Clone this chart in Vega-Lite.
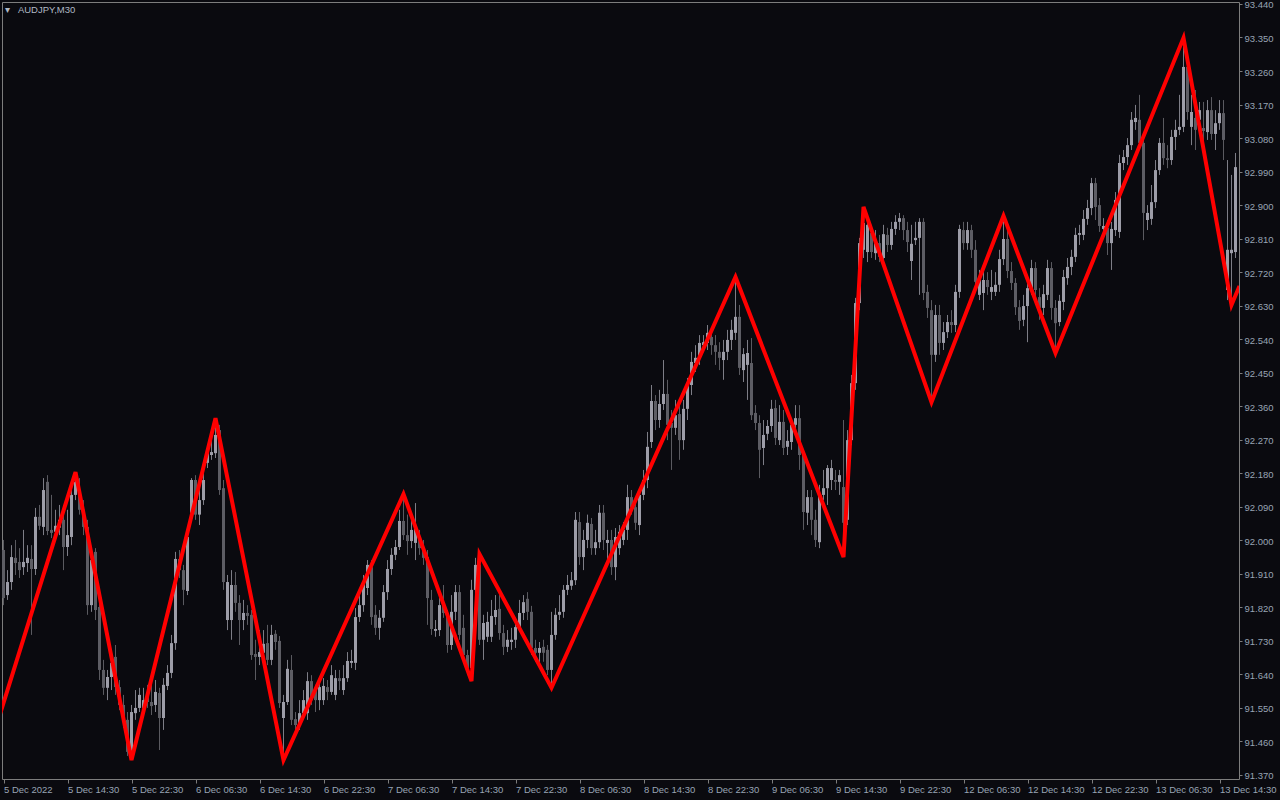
{
"$schema": "https://vega.github.io/schema/vega-lite/v6.json",
"width": 1237, "height": 777,
"autosize": "none",
"padding": {"left": 2, "top": 2, "right": 41, "bottom": 21},
"background": "#0a0a0f",
"config": {
 "view": {"stroke": "#7d7d7d", "strokeWidth": 1},
 "axis": {"labelFont": "Liberation Sans", "labelFontSize": 9.5, "labelColor": "#98a4b4", "tickColor": "#7d7d7d", "domain": false, "grid": false, "title": null, "labelOverlap": false, "labelFlush": false}
},
"title": {"text": "▾\u00a0\u00a0\u00a0AUDJPY,M30", "anchor": "start", "frame": "group", "offset": -15, "dx": 3, "font": "Liberation Sans", "fontSize": 9.5, "fontWeight": "normal", "color": "#b0b8c4"},
"datasets": {
"candles": [
{"i":0,"o":91.974,"h":92.001,"l":91.826,"c":91.845},
{"i":1,"o":91.853,"h":91.920,"l":91.840,"c":91.888},
{"i":2,"o":91.888,"h":91.987,"l":91.867,"c":91.955},
{"i":3,"o":91.953,"h":92.001,"l":91.907,"c":91.939},
{"i":4,"o":91.942,"h":91.979,"l":91.899,"c":91.920},
{"i":5,"o":91.928,"h":92.028,"l":91.907,"c":91.942},
{"i":6,"o":91.939,"h":91.987,"l":91.915,"c":91.953},
{"i":7,"o":91.950,"h":91.987,"l":91.746,"c":91.923},
{"i":8,"o":91.923,"h":92.087,"l":91.907,"c":92.063},
{"i":9,"o":92.063,"h":92.095,"l":92.028,"c":92.039},
{"i":10,"o":92.036,"h":92.167,"l":92.014,"c":92.135},
{"i":11,"o":92.157,"h":92.175,"l":92.014,"c":92.025},
{"i":12,"o":92.028,"h":92.122,"l":92.006,"c":92.020},
{"i":13,"o":92.023,"h":92.082,"l":92.001,"c":92.039},
{"i":14,"o":92.034,"h":92.095,"l":92.014,"c":92.055},
{"i":15,"o":92.055,"h":92.095,"l":91.920,"c":91.982},
{"i":16,"o":91.982,"h":92.082,"l":91.958,"c":92.014},
{"i":17,"o":92.009,"h":92.149,"l":91.987,"c":92.122},
{"i":18,"o":92.122,"h":92.183,"l":92.108,"c":92.157},
{"i":19,"o":92.127,"h":92.167,"l":92.069,"c":92.082},
{"i":20,"o":92.082,"h":92.108,"l":92.014,"c":92.036},
{"i":21,"o":92.036,"h":92.055,"l":91.800,"c":91.826},
{"i":22,"o":91.826,"h":91.979,"l":91.808,"c":91.947},
{"i":23,"o":91.969,"h":91.979,"l":91.786,"c":91.813},
{"i":24,"o":91.821,"h":91.840,"l":91.625,"c":91.652},
{"i":25,"o":91.652,"h":91.679,"l":91.585,"c":91.604},
{"i":26,"o":91.604,"h":91.652,"l":91.571,"c":91.633},
{"i":27,"o":91.633,"h":91.706,"l":91.598,"c":91.671},
{"i":28,"o":91.687,"h":91.719,"l":91.585,"c":91.606},
{"i":29,"o":91.606,"h":91.625,"l":91.544,"c":91.558},
{"i":30,"o":91.558,"h":91.585,"l":91.496,"c":91.518},
{"i":31,"o":91.518,"h":91.539,"l":91.421,"c":91.432},
{"i":32,"o":91.432,"h":91.558,"l":91.410,"c":91.539},
{"i":33,"o":91.536,"h":91.598,"l":91.518,"c":91.550},
{"i":34,"o":91.550,"h":91.604,"l":91.539,"c":91.585},
{"i":35,"o":91.550,"h":91.604,"l":91.531,"c":91.571},
{"i":36,"o":91.585,"h":91.612,"l":91.550,"c":91.566},
{"i":37,"o":91.566,"h":91.620,"l":91.531,"c":91.555},
{"i":38,"o":91.558,"h":91.625,"l":91.539,"c":91.593},
{"i":39,"o":91.590,"h":91.604,"l":91.437,"c":91.523},
{"i":40,"o":91.523,"h":91.630,"l":91.491,"c":91.612},
{"i":41,"o":91.609,"h":91.665,"l":91.598,"c":91.644},
{"i":42,"o":91.644,"h":91.746,"l":91.630,"c":91.724},
{"i":43,"o":91.724,"h":91.969,"l":91.706,"c":91.950},
{"i":44,"o":91.950,"h":91.974,"l":91.899,"c":91.920},
{"i":45,"o":91.920,"h":91.934,"l":91.826,"c":91.867},
{"i":46,"o":91.864,"h":92.028,"l":91.853,"c":92.009},
{"i":47,"o":92.074,"h":92.167,"l":92.055,"c":92.162},
{"i":48,"o":92.162,"h":92.175,"l":92.055,"c":92.069},
{"i":49,"o":92.069,"h":92.135,"l":92.041,"c":92.108},
{"i":50,"o":92.108,"h":92.183,"l":92.095,"c":92.162},
{"i":51,"o":92.208,"h":92.256,"l":92.194,"c":92.234},
{"i":52,"o":92.229,"h":92.269,"l":92.216,"c":92.237},
{"i":53,"o":92.234,"h":92.328,"l":92.221,"c":92.283},
{"i":54,"o":92.296,"h":92.310,"l":92.122,"c":92.135},
{"i":55,"o":92.140,"h":92.162,"l":91.867,"c":91.888},
{"i":56,"o":91.786,"h":91.907,"l":91.759,"c":91.888},
{"i":57,"o":91.786,"h":91.920,"l":91.733,"c":91.880},
{"i":58,"o":91.880,"h":91.915,"l":91.808,"c":91.832},
{"i":59,"o":91.832,"h":91.853,"l":91.719,"c":91.786},
{"i":60,"o":91.786,"h":91.840,"l":91.759,"c":91.805},
{"i":61,"o":91.805,"h":91.826,"l":91.773,"c":91.797},
{"i":62,"o":91.800,"h":91.813,"l":91.679,"c":91.692},
{"i":63,"o":91.695,"h":91.733,"l":91.625,"c":91.687},
{"i":64,"o":91.687,"h":91.759,"l":91.665,"c":91.700},
{"i":65,"o":91.698,"h":91.759,"l":91.679,"c":91.722},
{"i":66,"o":91.724,"h":91.773,"l":91.665,"c":91.679},
{"i":67,"o":91.679,"h":91.773,"l":91.665,"c":91.746},
{"i":68,"o":91.749,"h":91.759,"l":91.706,"c":91.727},
{"i":69,"o":91.730,"h":91.743,"l":91.550,"c":91.563},
{"i":70,"o":91.523,"h":91.585,"l":91.410,"c":91.566},
{"i":71,"o":91.566,"h":91.679,"l":91.558,"c":91.655},
{"i":72,"o":91.652,"h":91.692,"l":91.504,"c":91.518},
{"i":73,"o":91.520,"h":91.539,"l":91.478,"c":91.504},
{"i":74,"o":91.504,"h":91.571,"l":91.491,"c":91.536},
{"i":75,"o":91.536,"h":91.598,"l":91.523,"c":91.571},
{"i":76,"o":91.536,"h":91.646,"l":91.518,"c":91.622},
{"i":77,"o":91.622,"h":91.638,"l":91.558,"c":91.571},
{"i":78,"o":91.598,"h":91.612,"l":91.539,"c":91.571},
{"i":79,"o":91.571,"h":91.625,"l":91.544,"c":91.606},
{"i":80,"o":91.571,"h":91.630,"l":91.558,"c":91.609},
{"i":81,"o":91.606,"h":91.625,"l":91.571,"c":91.593},
{"i":82,"o":91.593,"h":91.665,"l":91.585,"c":91.638},
{"i":83,"o":91.585,"h":91.652,"l":91.571,"c":91.630},
{"i":84,"o":91.630,"h":91.652,"l":91.598,"c":91.622},
{"i":85,"o":91.598,"h":91.665,"l":91.585,"c":91.630},
{"i":86,"o":91.630,"h":91.700,"l":91.620,"c":91.676},
{"i":87,"o":91.671,"h":91.706,"l":91.657,"c":91.676},
{"i":88,"o":91.671,"h":91.818,"l":91.652,"c":91.794},
{"i":89,"o":91.794,"h":91.853,"l":91.781,"c":91.826},
{"i":90,"o":91.826,"h":91.907,"l":91.808,"c":91.888},
{"i":91,"o":91.872,"h":91.947,"l":91.853,"c":91.934},
{"i":92,"o":91.928,"h":91.947,"l":91.773,"c":91.794},
{"i":93,"o":91.800,"h":91.826,"l":91.746,"c":91.765},
{"i":94,"o":91.765,"h":91.813,"l":91.733,"c":91.792},
{"i":95,"o":91.792,"h":91.880,"l":91.781,"c":91.861},
{"i":96,"o":91.861,"h":91.947,"l":91.840,"c":91.923},
{"i":97,"o":91.923,"h":91.979,"l":91.907,"c":91.961},
{"i":98,"o":91.961,"h":92.001,"l":91.947,"c":91.982},
{"i":99,"o":91.982,"h":92.082,"l":91.974,"c":92.052},
{"i":100,"o":92.052,"h":92.124,"l":92.001,"c":92.014},
{"i":101,"o":92.014,"h":92.069,"l":91.961,"c":91.998},
{"i":102,"o":91.998,"h":92.055,"l":91.979,"c":92.028},
{"i":103,"o":91.993,"h":92.100,"l":91.947,"c":92.031},
{"i":104,"o":92.001,"h":92.028,"l":91.961,"c":91.979},
{"i":105,"o":91.979,"h":92.001,"l":91.934,"c":91.953},
{"i":106,"o":91.955,"h":91.974,"l":91.773,"c":91.845},
{"i":107,"o":91.840,"h":91.867,"l":91.746,"c":91.762},
{"i":108,"o":91.757,"h":91.786,"l":91.741,"c":91.762},
{"i":109,"o":91.759,"h":91.845,"l":91.743,"c":91.826},
{"i":110,"o":91.826,"h":91.880,"l":91.792,"c":91.805},
{"i":111,"o":91.805,"h":91.813,"l":91.698,"c":91.719},
{"i":112,"o":91.719,"h":91.853,"l":91.706,"c":91.808},
{"i":113,"o":91.808,"h":91.880,"l":91.786,"c":91.861},
{"i":114,"o":91.861,"h":91.880,"l":91.733,"c":91.746},
{"i":115,"o":91.765,"h":91.800,"l":91.674,"c":91.692},
{"i":116,"o":91.692,"h":91.706,"l":91.638,"c":91.657},
{"i":117,"o":91.657,"h":91.894,"l":91.622,"c":91.867},
{"i":118,"o":91.867,"h":91.953,"l":91.853,"c":91.934},
{"i":119,"o":91.934,"h":91.963,"l":91.719,"c":91.733},
{"i":120,"o":91.733,"h":91.800,"l":91.679,"c":91.778},
{"i":121,"o":91.741,"h":91.808,"l":91.727,"c":91.781},
{"i":122,"o":91.741,"h":91.840,"l":91.727,"c":91.797},
{"i":123,"o":91.794,"h":91.853,"l":91.773,"c":91.813},
{"i":124,"o":91.816,"h":91.853,"l":91.733,"c":91.751},
{"i":125,"o":91.751,"h":91.773,"l":91.692,"c":91.714},
{"i":126,"o":91.714,"h":91.759,"l":91.700,"c":91.733},
{"i":127,"o":91.727,"h":91.765,"l":91.706,"c":91.733},
{"i":128,"o":91.733,"h":91.792,"l":91.711,"c":91.767},
{"i":129,"o":91.767,"h":91.840,"l":91.754,"c":91.805},
{"i":130,"o":91.805,"h":91.853,"l":91.786,"c":91.834},
{"i":131,"o":91.843,"h":91.861,"l":91.786,"c":91.808},
{"i":132,"o":91.808,"h":91.824,"l":91.692,"c":91.711},
{"i":133,"o":91.711,"h":91.733,"l":91.674,"c":91.698},
{"i":134,"o":91.698,"h":91.727,"l":91.665,"c":91.711},
{"i":135,"o":91.714,"h":91.733,"l":91.674,"c":91.698},
{"i":136,"o":91.706,"h":91.719,"l":91.638,"c":91.652},
{"i":137,"o":91.652,"h":91.808,"l":91.604,"c":91.746},
{"i":138,"o":91.746,"h":91.818,"l":91.733,"c":91.800},
{"i":139,"o":91.800,"h":91.853,"l":91.786,"c":91.808},
{"i":140,"o":91.808,"h":91.880,"l":91.792,"c":91.867},
{"i":141,"o":91.867,"h":91.907,"l":91.853,"c":91.880},
{"i":142,"o":91.878,"h":91.915,"l":91.867,"c":91.893},
{"i":143,"o":91.893,"h":92.076,"l":91.880,"c":92.055},
{"i":144,"o":92.049,"h":92.076,"l":91.934,"c":91.955},
{"i":145,"o":91.955,"h":92.028,"l":91.920,"c":92.001},
{"i":146,"o":92.001,"h":92.069,"l":91.979,"c":92.047},
{"i":147,"o":92.044,"h":92.060,"l":91.961,"c":91.979},
{"i":148,"o":91.979,"h":92.028,"l":91.961,"c":91.995},
{"i":149,"o":91.995,"h":92.095,"l":91.979,"c":92.074},
{"i":150,"o":92.074,"h":92.095,"l":91.974,"c":92.001},
{"i":151,"o":91.993,"h":92.028,"l":91.947,"c":92.001},
{"i":152,"o":92.001,"h":92.028,"l":91.907,"c":91.928},
{"i":153,"o":91.928,"h":92.033,"l":91.893,"c":92.009},
{"i":154,"o":91.979,"h":92.041,"l":91.961,"c":92.023},
{"i":155,"o":92.001,"h":92.049,"l":91.987,"c":92.028},
{"i":156,"o":92.028,"h":92.149,"l":92.001,"c":92.116},
{"i":157,"o":92.116,"h":92.135,"l":92.069,"c":92.089},
{"i":158,"o":92.089,"h":92.108,"l":92.028,"c":92.047},
{"i":159,"o":92.041,"h":92.135,"l":92.014,"c":92.122},
{"i":160,"o":92.122,"h":92.189,"l":92.108,"c":92.162},
{"i":161,"o":92.162,"h":92.291,"l":92.140,"c":92.251},
{"i":162,"o":92.264,"h":92.417,"l":92.248,"c":92.374},
{"i":163,"o":92.374,"h":92.390,"l":92.296,"c":92.323},
{"i":164,"o":92.323,"h":92.404,"l":92.302,"c":92.366},
{"i":165,"o":92.366,"h":92.484,"l":92.350,"c":92.393},
{"i":166,"o":92.393,"h":92.431,"l":92.269,"c":92.310},
{"i":167,"o":92.315,"h":92.350,"l":92.189,"c":92.302},
{"i":168,"o":92.302,"h":92.377,"l":92.283,"c":92.336},
{"i":169,"o":92.339,"h":92.363,"l":92.216,"c":92.269},
{"i":170,"o":92.269,"h":92.377,"l":92.243,"c":92.353},
{"i":171,"o":92.353,"h":92.436,"l":92.323,"c":92.417},
{"i":172,"o":92.417,"h":92.506,"l":92.390,"c":92.479},
{"i":173,"o":92.476,"h":92.524,"l":92.452,"c":92.490},
{"i":174,"o":92.490,"h":92.551,"l":92.471,"c":92.530},
{"i":175,"o":92.524,"h":92.551,"l":92.506,"c":92.532},
{"i":176,"o":92.530,"h":92.578,"l":92.511,"c":92.557},
{"i":177,"o":92.546,"h":92.565,"l":92.498,"c":92.524},
{"i":178,"o":92.524,"h":92.551,"l":92.471,"c":92.506},
{"i":179,"o":92.506,"h":92.532,"l":92.457,"c":92.490},
{"i":180,"o":92.484,"h":92.538,"l":92.431,"c":92.506},
{"i":181,"o":92.506,"h":92.565,"l":92.484,"c":92.538},
{"i":182,"o":92.538,"h":92.592,"l":92.511,"c":92.565},
{"i":183,"o":92.557,"h":92.707,"l":92.538,"c":92.600},
{"i":184,"o":92.600,"h":92.632,"l":92.444,"c":92.463},
{"i":185,"o":92.457,"h":92.516,"l":92.425,"c":92.500},
{"i":186,"o":92.471,"h":92.538,"l":92.377,"c":92.503},
{"i":187,"o":92.476,"h":92.543,"l":92.323,"c":92.336},
{"i":188,"o":92.342,"h":92.363,"l":92.296,"c":92.315},
{"i":189,"o":92.315,"h":92.336,"l":92.167,"c":92.243},
{"i":190,"o":92.248,"h":92.323,"l":92.202,"c":92.283},
{"i":191,"o":92.286,"h":92.323,"l":92.269,"c":92.307},
{"i":192,"o":92.307,"h":92.377,"l":92.291,"c":92.353},
{"i":193,"o":92.355,"h":92.377,"l":92.256,"c":92.275},
{"i":194,"o":92.269,"h":92.363,"l":92.256,"c":92.318},
{"i":195,"o":92.318,"h":92.350,"l":92.229,"c":92.248},
{"i":196,"o":92.251,"h":92.296,"l":92.229,"c":92.267},
{"i":197,"o":92.264,"h":92.328,"l":92.243,"c":92.310},
{"i":198,"o":92.310,"h":92.363,"l":92.291,"c":92.328},
{"i":199,"o":92.328,"h":92.363,"l":92.189,"c":92.229},
{"i":200,"o":92.229,"h":92.243,"l":92.028,"c":92.076},
{"i":201,"o":92.074,"h":92.135,"l":92.041,"c":92.116},
{"i":202,"o":92.116,"h":92.135,"l":92.014,"c":92.055},
{"i":203,"o":92.055,"h":92.082,"l":91.982,"c":92.001},
{"i":204,"o":91.995,"h":92.149,"l":91.979,"c":92.122},
{"i":205,"o":92.122,"h":92.189,"l":92.108,"c":92.140},
{"i":206,"o":92.140,"h":92.202,"l":92.095,"c":92.194},
{"i":207,"o":92.162,"h":92.216,"l":92.135,"c":92.194},
{"i":208,"o":92.162,"h":92.189,"l":92.135,"c":92.157},
{"i":209,"o":92.157,"h":92.189,"l":92.122,"c":92.175},
{"i":210,"o":92.143,"h":92.323,"l":91.955,"c":92.047},
{"i":211,"o":92.055,"h":92.296,"l":92.041,"c":92.269},
{"i":212,"o":92.269,"h":92.444,"l":92.256,"c":92.422},
{"i":213,"o":92.422,"h":92.651,"l":92.404,"c":92.637},
{"i":214,"o":92.637,"h":92.812,"l":92.618,"c":92.798},
{"i":215,"o":92.780,"h":92.895,"l":92.758,"c":92.852},
{"i":216,"o":92.774,"h":92.873,"l":92.747,"c":92.847},
{"i":217,"o":92.825,"h":92.847,"l":92.758,"c":92.774},
{"i":218,"o":92.771,"h":92.833,"l":92.753,"c":92.798},
{"i":219,"o":92.798,"h":92.820,"l":92.747,"c":92.761},
{"i":220,"o":92.758,"h":92.847,"l":92.747,"c":92.822},
{"i":221,"o":92.820,"h":92.839,"l":92.774,"c":92.793},
{"i":222,"o":92.793,"h":92.855,"l":92.780,"c":92.836},
{"i":223,"o":92.836,"h":92.873,"l":92.820,"c":92.855},
{"i":224,"o":92.855,"h":92.879,"l":92.833,"c":92.865},
{"i":225,"o":92.865,"h":92.873,"l":92.806,"c":92.833},
{"i":226,"o":92.833,"h":92.855,"l":92.774,"c":92.801},
{"i":227,"o":92.750,"h":92.847,"l":92.699,"c":92.796},
{"i":228,"o":92.806,"h":92.855,"l":92.793,"c":92.812},
{"i":229,"o":92.812,"h":92.865,"l":92.659,"c":92.855},
{"i":230,"o":92.855,"h":92.865,"l":92.645,"c":92.664},
{"i":231,"o":92.667,"h":92.686,"l":92.597,"c":92.624},
{"i":232,"o":92.618,"h":92.645,"l":92.371,"c":92.498},
{"i":233,"o":92.498,"h":92.632,"l":92.479,"c":92.605},
{"i":234,"o":92.605,"h":92.632,"l":92.498,"c":92.530},
{"i":235,"o":92.530,"h":92.586,"l":92.511,"c":92.559},
{"i":236,"o":92.559,"h":92.605,"l":92.543,"c":92.586},
{"i":237,"o":92.586,"h":92.618,"l":92.557,"c":92.578},
{"i":238,"o":92.578,"h":92.686,"l":92.559,"c":92.667},
{"i":239,"o":92.667,"h":92.847,"l":92.651,"c":92.836},
{"i":240,"o":92.833,"h":92.855,"l":92.780,"c":92.798},
{"i":241,"o":92.798,"h":92.855,"l":92.780,"c":92.833},
{"i":242,"o":92.833,"h":92.847,"l":92.758,"c":92.780},
{"i":243,"o":92.780,"h":92.806,"l":92.672,"c":92.694},
{"i":244,"o":92.659,"h":92.726,"l":92.645,"c":92.699},
{"i":245,"o":92.664,"h":92.739,"l":92.618,"c":92.699},
{"i":246,"o":92.699,"h":92.720,"l":92.659,"c":92.680},
{"i":247,"o":92.667,"h":92.726,"l":92.645,"c":92.680},
{"i":248,"o":92.667,"h":92.720,"l":92.656,"c":92.686},
{"i":249,"o":92.686,"h":92.780,"l":92.667,"c":92.755},
{"i":250,"o":92.755,"h":92.871,"l":92.739,"c":92.809},
{"i":251,"o":92.809,"h":92.833,"l":92.704,"c":92.723},
{"i":252,"o":92.723,"h":92.747,"l":92.672,"c":92.691},
{"i":253,"o":92.691,"h":92.704,"l":92.605,"c":92.626},
{"i":254,"o":92.626,"h":92.645,"l":92.565,"c":92.589},
{"i":255,"o":92.592,"h":92.659,"l":92.575,"c":92.629},
{"i":256,"o":92.629,"h":92.699,"l":92.532,"c":92.677},
{"i":257,"o":92.677,"h":92.753,"l":92.659,"c":92.731},
{"i":258,"o":92.731,"h":92.747,"l":92.651,"c":92.672},
{"i":259,"o":92.653,"h":92.677,"l":92.592,"c":92.624},
{"i":260,"o":92.624,"h":92.686,"l":92.605,"c":92.661},
{"i":261,"o":92.659,"h":92.753,"l":92.645,"c":92.731},
{"i":262,"o":92.731,"h":92.747,"l":92.592,"c":92.624},
{"i":263,"o":92.624,"h":92.645,"l":92.503,"c":92.583},
{"i":264,"o":92.586,"h":92.659,"l":92.575,"c":92.643},
{"i":265,"o":92.640,"h":92.726,"l":92.618,"c":92.707},
{"i":266,"o":92.704,"h":92.758,"l":92.686,"c":92.734},
{"i":267,"o":92.734,"h":92.780,"l":92.712,"c":92.761},
{"i":268,"o":92.761,"h":92.839,"l":92.747,"c":92.820},
{"i":269,"o":92.820,"h":92.847,"l":92.793,"c":92.825},
{"i":270,"o":92.820,"h":92.887,"l":92.806,"c":92.863},
{"i":271,"o":92.863,"h":92.914,"l":92.847,"c":92.892},
{"i":272,"o":92.892,"h":92.973,"l":92.873,"c":92.959},
{"i":273,"o":92.959,"h":92.973,"l":92.860,"c":92.895},
{"i":274,"o":92.900,"h":92.919,"l":92.828,"c":92.844},
{"i":275,"o":92.836,"h":92.865,"l":92.820,"c":92.844},
{"i":276,"o":92.839,"h":92.860,"l":92.766,"c":92.798},
{"i":277,"o":92.798,"h":92.855,"l":92.726,"c":92.836},
{"i":278,"o":92.833,"h":92.935,"l":92.817,"c":92.914},
{"i":279,"o":92.828,"h":93.035,"l":92.812,"c":93.013},
{"i":280,"o":93.013,"h":93.048,"l":92.994,"c":93.029},
{"i":281,"o":93.029,"h":93.080,"l":93.008,"c":93.061},
{"i":282,"o":93.061,"h":93.150,"l":93.048,"c":93.129},
{"i":283,"o":93.123,"h":93.169,"l":93.102,"c":93.134},
{"i":284,"o":93.129,"h":93.196,"l":93.048,"c":93.067},
{"i":285,"o":93.067,"h":93.080,"l":92.806,"c":92.879},
{"i":286,"o":92.860,"h":92.900,"l":92.833,"c":92.879},
{"i":287,"o":92.863,"h":92.954,"l":92.847,"c":92.908},
{"i":288,"o":92.908,"h":93.021,"l":92.892,"c":92.994},
{"i":289,"o":92.994,"h":93.080,"l":92.981,"c":93.067},
{"i":290,"o":93.067,"h":93.134,"l":93.008,"c":93.026},
{"i":291,"o":93.026,"h":93.061,"l":92.999,"c":93.021},
{"i":292,"o":93.021,"h":93.102,"l":93.008,"c":93.083},
{"i":293,"o":93.083,"h":93.129,"l":93.048,"c":93.102},
{"i":294,"o":93.102,"h":93.196,"l":93.088,"c":93.110},
{"i":295,"o":93.110,"h":93.349,"l":93.096,"c":93.271},
{"i":296,"o":93.271,"h":93.290,"l":93.129,"c":93.150},
{"i":297,"o":93.110,"h":93.196,"l":93.061,"c":93.150},
{"i":298,"o":93.134,"h":93.209,"l":93.048,"c":93.102},
{"i":299,"o":93.129,"h":93.177,"l":93.115,"c":93.155},
{"i":300,"o":93.107,"h":93.177,"l":93.069,"c":93.099},
{"i":301,"o":93.096,"h":93.182,"l":93.075,"c":93.155},
{"i":302,"o":93.155,"h":93.190,"l":93.075,"c":93.091},
{"i":303,"o":93.091,"h":93.155,"l":93.048,"c":93.120},
{"i":304,"o":93.120,"h":93.182,"l":93.102,"c":93.147},
{"i":305,"o":93.147,"h":93.182,"l":93.021,"c":93.075},
{"i":306,"o":92.672,"h":93.021,"l":92.645,"c":92.780},
{"i":307,"o":92.771,"h":92.981,"l":92.632,"c":92.780},
{"i":308,"o":92.774,"h":93.040,"l":92.758,"c":93.002}
],
"zigzag": [
{"i":-1,"p":91.529},{"i":18,"p":92.183},{"i":32,"p":91.410},{"i":53,"p":92.328},{"i":70,"p":91.410},{"i":100,"p":92.124},{"i":117,"p":91.622},{"i":119,"p":91.963},{"i":137,"p":91.604},{"i":183,"p":92.707},{"i":210,"p":91.955},{"i":215,"p":92.895},{"i":232,"p":92.371},{"i":250,"p":92.871},{"i":263,"p":92.503},{"i":295,"p":93.349},{"i":307,"p":92.632},{"i":309,"p":92.683}
]
},
"layer": [
{
 "data": {"name": "candles"},
 "mark": {"type": "rule", "strokeWidth": 1},
 "encoding": {
  "x": {"field": "i", "type": "quantitative", "scale": {"domain": [-0.375, 308.875], "nice": false, "zero": false},
        "axis": {"values": [0,16,32,48,64,80,96,112,128,144,160,176,192,208,224,240,256,272,288,304], "tickCount": 40,
                 "labelExpr": "['5 Dec 2022','5 Dec 14:30','5 Dec 22:30','6 Dec 06:30','6 Dec 14:30','6 Dec 22:30','7 Dec 06:30','7 Dec 14:30','7 Dec 22:30','8 Dec 06:30','8 Dec 14:30','8 Dec 22:30','9 Dec 06:30','9 Dec 14:30','9 Dec 22:30','12 Dec 06:30','12 Dec 14:30','12 Dec 22:30','13 Dec 06:30','13 Dec 14:30'][round(datum.value/16)]",
                 "labelAlign": "left", "labelBaseline": "top", "labelPadding": 1, "tickSize": 4, "labelOverlap": false, "labelFlush": false}},
  "y": {"field": "l", "type": "quantitative", "scale": {"domain": [91.3592, 93.4453], "nice": false, "zero": false},
        "axis": {"orient": "right", "values": [93.44,93.35,93.26,93.17,93.08,92.99,92.9,92.81,92.72,92.63,92.54,92.45,92.36,92.27,92.18,92.09,92.0,91.91,91.82,91.73,91.64,91.55,91.46,91.37], "tickCount": 40,
                 "format": ".3f", "tickSize": 3, "labelPadding": 2, "labelOffset": 1, "labelOverlap": false, "labelFlush": false, "labelBound": false}},
  "y2": {"field": "h"},
  "color": {"condition": {"test": "datum.c >= datum.o", "value": "#7d7d86"}, "value": "#5a5a60"}
 }
},
{
 "data": {"name": "candles"},
 "mark": {"type": "rule", "strokeWidth": 3, "strokeCap": "butt"},
 "encoding": {
  "x": {"field": "i", "type": "quantitative"},
  "y": {"field": "o", "type": "quantitative"},
  "y2": {"field": "c"},
  "color": {"condition": {"test": "datum.c >= datum.o", "value": "#9d9da8"}, "value": "#5d5d64"}
 }
},
{
 "data": {"name": "zigzag"},
 "mark": {"type": "line", "color": "#ff0000", "strokeWidth": 4, "strokeJoin": "miter", "clip": true},
 "encoding": {
  "x": {"field": "i", "type": "quantitative"},
  "y": {"field": "p", "type": "quantitative"}
 }
}
]
}
